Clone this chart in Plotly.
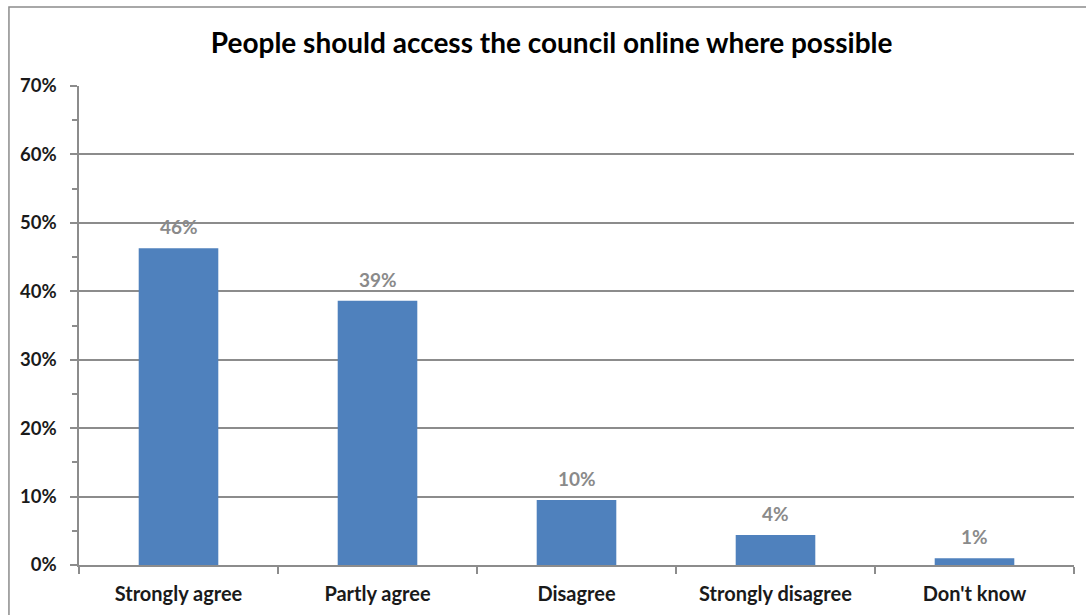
import plotly.graph_objects as go

categories = ["Strongly agree", "Partly agree", "Disagree", "Strongly disagree", "Don't know"]
shares = [0.463, 0.386, 0.095, 0.044, 0.010]
y_ticks = [0, 0.1, 0.2, 0.3, 0.4, 0.5, 0.6, 0.7]
y_tick_labels = ["0%", "10%", "20%", "30%", "40%", "50%", "60%", "70%"]

title_text = "People should access the council online where possible"

FONT = "Lato"
AXIS_GREY = "#8c8c8c"

fig = go.Figure()
fig.add_trace(go.Bar(
    x=categories,
    y=shares,
    marker=dict(color="#4f81bd", line=dict(width=0)),
    hoverinfo="x+y",
))

# value labels above each bar
for cat, val in zip(categories, shares):
    fig.add_annotation(
        x=cat, y=val, text=f"{val:.0%}", showarrow=False,
        yanchor="bottom", yshift=8,
        font=dict(family=FONT, size=19, color="#8a8a8a", weight="bold"),
    )

# chart frame
fig.add_shape(type="rect", xref="paper", yref="paper",
              x0=-0.0704, x1=1.02, y0=-0.12, y1=1.1649,
              line=dict(color="#8c8c8c", width=1.5), fillcolor="rgba(0,0,0,0)",
              layer="below")

fig.update_layout(
    width=1086, height=615,
    margin=dict(l=79, r=12, t=86, b=50),
    paper_bgcolor="white", plot_bgcolor="white",
    bargap=0.6,
    showlegend=False,
    title=dict(text=title_text, x=0.475 * 995 / 1086 + 79 / 1086, xanchor="center",
               y=1 - 43 / 615, yanchor="middle",
               font=dict(family=FONT, size=28, color="#000000", weight="bold")),
    xaxis=dict(
        type="category",
        automargin=False,
        showline=True, linecolor=AXIS_GREY, linewidth=1.5,
        ticks="outside", ticklen=7, tickcolor=AXIS_GREY, tickwidth=1.5,
        tickson="boundaries",
        ticklabelstandoff=10,
        showgrid=False,
        tickfont=dict(family=FONT, size=20, color="#1a1a1a", weight="bold"),
    ),
    yaxis=dict(
        range=[0, 0.7],
        automargin=False,
        tickvals=y_ticks, ticktext=y_tick_labels,
        showline=True, linecolor=AXIS_GREY, linewidth=1.5,
        ticks="outside", ticklen=7, tickcolor=AXIS_GREY, tickwidth=1.5,
        ticklabelstandoff=10,
        showgrid=True, gridcolor=AXIS_GREY, gridwidth=1.5,
        zeroline=False,
        minor=dict(dtick=0.05, ticks="outside", ticklen=5, tickcolor=AXIS_GREY,
                   tickwidth=1.5, showgrid=False),
        tickfont=dict(family=FONT, size=18.5, color="#1a1a1a", weight="bold"),
    ),
)

fig.write_html("out.html")
